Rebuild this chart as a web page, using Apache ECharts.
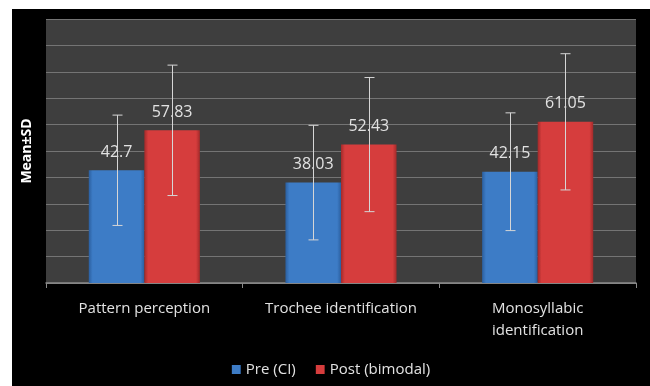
<!DOCTYPE html>
<html>
<head>
<meta charset="utf-8">
<script src="https://cdn.jsdelivr.net/npm/echarts@6/dist/echarts.min.js"></script>
<style>
    html, body { margin: 0; padding: 0; background: #fff; }
    #chart { position: absolute; left: 12px; top: 9px; width: 638px; height: 377px; }
</style>
</head>
<body>
<div id="chart"></div>
<script>
    const categories = ['Pattern perception', 'Trochee identification', 'Monosyllabic\nidentification'];
    const preMean = [42.7, 38.03, 42.15];
    const postMean = [57.83, 52.43, 61.05];
    const preSD = [20.9, 21.7, 22.3];
    const postSD = [24.7, 25.4, 25.8];
    const seriesNames = ['Pre (CI)', 'Post (bimodal)'];

    const catGap = 0.435;
    const textColor = '#e2e2e2';
    const fontFamily = '"Open Sans", Lato, sans-serif';

    function barGradient(edge, main) {
        return new echarts.graphic.LinearGradient(0, 0, 1, 0, [
            {offset: 0, color: edge},
            {offset: 0.07, color: main},
            {offset: 0.93, color: main},
            {offset: 1, color: edge}
        ]);
    }

    function errorSeries(means, sds, side) {
        return {
            type: 'custom',
            z: 5,
            silent: true,
            data: means.map((m, i) => [i, m - sds[i], m + sds[i]]),
            renderItem(params, api) {
                const band = api.size([1, 0])[0];
                const barW = band * (1 - catGap) / 2;
                const lo = api.coord([api.value(0), api.value(1)]);
                const hi = api.coord([api.value(0), api.value(2)]);
                const x = Math.round(lo[0] + side * barW / 2) + 0.5;
                const cap = 5;
                const style = {stroke: '#d6d6d6', lineWidth: 1};
                return {
                    type: 'group',
                    children: [
                        {type: 'line', shape: {x1: x, y1: hi[1], x2: x, y2: lo[1]}, style},
                        {type: 'line', shape: {x1: x - cap, y1: hi[1], x2: x + cap, y2: hi[1]}, style},
                        {type: 'line', shape: {x1: x - cap, y1: lo[1], x2: x + cap, y2: lo[1]}, style}
                    ]
                };
            }
        };
    }

    const chart = echarts.init(document.getElementById('chart'));
    chart.setOption({
        backgroundColor: '#000',
        textStyle: {fontFamily},
        grid: {
            left: 31, right: 14, top: 10, bottom: 103,
            show: true, backgroundColor: '#3e3e3e', borderWidth: 0
        },
        legend: {
            data: seriesNames,
            top: 348,
            left: 'center',
            itemWidth: 9,
            itemHeight: 9,
            itemGap: 20,
            icon: 'rect',
            textStyle: {color: textColor, fontSize: 15, fontFamily}
        },
        xAxis: {
            type: 'category',
            data: categories,
            axisLine: {lineStyle: {color: '#8a8a8a', width: 1.5}},
            axisTick: {show: true, interval: 0, length: 5, lineStyle: {color: '#8a8a8a'}},
            axisLabel: {interval: 0, hideOverlap: false, color: textColor, fontSize: 15, margin: 15, lineHeight: 22, fontFamily}
        },
        yAxis: {
            type: 'value',
            min: 0,
            max: 100,
            interval: 10,
            name: 'Mean±SD',
            nameLocation: 'middle',
            nameRotate: 90,
            nameGap: 12,
            nameTextStyle: {color: '#fff', fontSize: 14, fontWeight: 'bold', fontFamily},
            axisLine: {show: false},
            axisTick: {show: false},
            axisLabel: {show: false},
            splitLine: {lineStyle: {color: '#747474', width: 1}}
        },
        series: [
            {
                name: seriesNames[0],
                type: 'bar',
                data: preMean,
                barGap: 0,
                barCategoryGap: (catGap * 100) + '%',
                itemStyle: {color: barGradient('#2b5f9f', '#3d7cc6')},
                label: {show: true, position: 'top', distance: 10, color: textColor, fontSize: 16, fontFamily}
            },
            {
                name: seriesNames[1],
                type: 'bar',
                data: postMean,
                itemStyle: {color: barGradient('#a22a2a', '#d63d3d')},
                label: {show: true, position: 'top', distance: 10, color: textColor, fontSize: 16, fontFamily}
            },
            errorSeries(preMean, preSD, -1),
            errorSeries(postMean, postSD, 1)
        ]
    });
</script>
</body>
</html>
